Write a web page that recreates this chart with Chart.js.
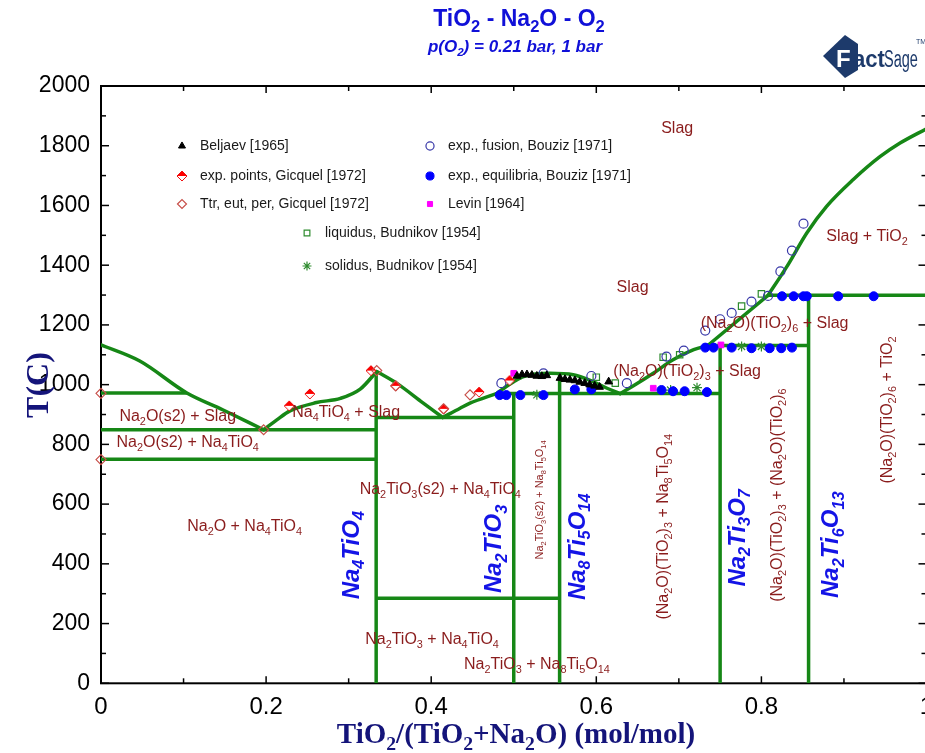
<!DOCTYPE html>
<html><head><meta charset="utf-8">
<script src="https://cdn.jsdelivr.net/npm/chart.js@4.4.1/dist/chart.umd.min.js"></script>
<style>
html,body{margin:0;padding:0;background:#fff;overflow:hidden;}
#wrap{position:relative;width:935px;height:753px;}
canvas{display:block;}
</style></head><body>
<div id="wrap"><canvas id="c" width="935" height="753"></canvas></div>
<script>
// ---- Phase boundaries: [x = TiO2/(TiO2+Na2O), T in °C] ----
const liqNa2O      = [[0,1133],[0.047,1079],[0.104,972],[0.148,915],[0.197,849]];
const liqNa4TiO4a  = [[0.197,849],[0.213,882],[0.229,912],[0.261,940],[0.29,954],[0.314,985],[0.334,1044]];
const liqNa4TiO4b  = [[0.334,1044],[0.358,1005],[0.39,939],[0.414,890]];
const liqNa2TiO3   = [[0.414,890],[0.435,921],[0.447,938],[0.479,970]];
const liqNa8Ti5O14 = [[0.479,970],[0.491,994],[0.5,1010],[0.512,1027],[0.544,1038],[0.572,1033],[0.596,1010],[0.613,988],[0.629,970]];
const liqNa2Ti3O7  = [[0.629,970],[0.645,996],[0.669,1038],[0.693,1083],[0.718,1117],[0.735,1131]];
const liqNa2Ti6O13 = [[0.735,1131],[0.808,1299]];
const liqTiO2      = [[0.808,1299],[0.831,1396],[0.855,1508],[0.879,1597],[0.911,1686],[0.944,1764],[0.968,1809],[1,1857]];

// horizontal invariants
const isotherms = [
  [[0,972],[0.104,972]],
  [[0,849],[1/3,849]],
  [[0,750],[1/3,750]],
  [[1/3,890],[0.5,890]],
  [[1/3,285],[5/9,285]],
  [[0.479,970],[5/9,970]],
  [[5/9,970],[0.75,970]],
  [[0.735,1131],[6/7,1131]],
  [[0.808,1299],[1,1299]]
];
// stoichiometric compounds
const compounds = [
  [[1/3,0],[1/3,1044]],
  [[0.5,0],[0.5,970]],
  [[5/9,0],[5/9,1038]],
  [[0.75,0],[0.75,1131]],
  [[6/7,0],[6/7,1299]]
];

// ---- Experimental points ----
const beljaev1965 = [[0.504,1029],[0.51,1034],[0.516,1034],[0.522,1032],[0.528,1029],[0.534,1028],[0.54,1031],[0.556,1022],[0.562,1018],[0.568,1016],[0.574,1014],[0.58,1009],[0.586,1005],[0.592,1000],[0.598,996],[0.604,992],[0.615,1010]];
const gicquelPoints = [[0.228,929],[0.253,969],[0.327,1047],[0.357,996],[0.415,919],[0.458,975],[0.495,1014]];
const gicquelTtr = [[0,971],[0,749],[0.197,849],[0.334,1047],[0.357,996],[0.415,919],[0.447,966]];
const bouzizFusion = [[0.485,1005],[0.536,1038],[0.594,1029],[0.637,1005],[0.685,1094],[0.706,1114],[0.732,1181],[0.75,1219],[0.764,1240],[0.788,1278],[0.808,1297],[0.823,1379],[0.837,1449],[0.851,1539]];
const bouzizEquil = [[0.483,965],[0.491,965],[0.508,965],[0.536,965],[0.574,984],[0.594,984],[0.679,982],[0.693,978],[0.707,978],[0.734,975],
  [0.732,1124],[0.742,1124],[0.764,1124],[0.788,1122],[0.81,1122],[0.824,1122],[0.837,1124],
  [0.825,1296],[0.839,1296],[0.851,1296],[0.855,1296],[0.893,1296],[0.936,1296]];
const levin1964 = [[0.5,1038],[0.669,988],[0.751,1133]];
const budnikovLiq = [[0.6,1025],[0.623,1005],[0.681,1092],[0.701,1100],[0.776,1263],[0.8,1304]];
const budnikovSol = [[0.528,966],[0.69,982],[0.722,990],[0.776,1128],[0.8,1128]];

// ---- Axis ticks ----
const xTickStep = 0.2, yTickStep = 200;
const xRange = [0, 1], yRange = [0, 2000];

// ---- Region and compound labels: [text, x, T] (underscore marks a subscript) ----
const regionLabels = [
  ['Slag',0.698,1857],['Slag',0.644,1324],['Slag + TiO_2',0.928,1495],
  ['(Na_2O)(TiO_2)_6 + Slag',0.816,1204],['(Na_2O)(TiO_2)_3 + Slag',0.71,1043],
  ['Na_2O(s2) + Slag',0.093,892],['Na_2O(s2) + Na_4TiO_4',0.105,805],['Na_4TiO_4 + Slag',0.297,905],
  ['Na_2TiO_3(s2) + Na_4TiO_4',0.411,648],['Na_2O + Na_4TiO_4',0.174,524],
  ['Na_2TiO_3 + Na_4TiO_4',0.401,145],['Na_2TiO_3 + Na_8Ti_5O_14',0.528,61]
];
const verticalLabels = [
  ['(Na_2O)(TiO_2)_3 + Na_8Ti_5O_14',0.682,524,16],
  ['(Na_2O)(TiO_2)_3 + (Na_2O)(TiO_2)_6',0.82,630,16],
  ['(Na_2O)(TiO_2)_6 + TiO_2',0.953,915,16],
  ['Na_2TiO_3(s2) + Na_8Ti_5O_14',0.532,614,11]
];
const compoundLabels = [
  ['Na_4TiO_4',0.304,429],['Na_2TiO_3',0.477,450],['Na_8Ti_5O_14',0.578,457],
  ['Na_2Ti_3O_7',0.772,487],['Na_2Ti_6O_13',0.885,464]
];

const GREEN = '#168716';
const MAROON = '#8a1c1c';
const pts = a => a.map(p => ({x:p[0], y:p[1]}));

// half-filled red diamond marker
function halfDiamond(size){
  const c = document.createElement('canvas'); c.width = size; c.height = size;
  const g = c.getContext('2d'), h = size/2;
  g.fillStyle = '#fff';
  g.beginPath(); g.moveTo(h,1); g.lineTo(size-1,h); g.lineTo(h,size-1); g.lineTo(1,h); g.closePath(); g.fill();
  g.fillStyle = '#ff0000';
  g.beginPath(); g.moveTo(h,1); g.lineTo(size-1,h); g.lineTo(1,h); g.closePath(); g.fill();
  g.strokeStyle = '#ee1111'; g.lineWidth = 1;
  g.beginPath(); g.moveTo(h,1); g.lineTo(size-1,h); g.lineTo(h,size-1); g.lineTo(1,h); g.closePath(); g.stroke();
  return c;
}
const redDiamond = halfDiamond(12);

const markerStyles = {
  beljaev:  {pointStyle:'triangle', pointRadius:4.5, backgroundColor:'#000', borderColor:'#000', borderWidth:1},
  gicquelP: {pointStyle:redDiamond, pointRadius:6, backgroundColor:'#f00', borderColor:'#f00', borderWidth:1},
  gicquelT: {pointStyle:'rectRot', pointRadius:5, backgroundColor:'rgba(0,0,0,0)', borderColor:'#c8504a', borderWidth:1.2},
  bFusion:  {pointStyle:'circle', pointRadius:4.5, backgroundColor:'rgba(0,0,0,0)', borderColor:'#3838a8', borderWidth:1.2},
  bEquil:   {pointStyle:'circle', pointRadius:4.5, backgroundColor:'#0000ff', borderColor:'#0000ff', borderWidth:1},
  levin:    {pointStyle:'rect', pointRadius:4, backgroundColor:'#ff00ff', borderColor:'#ff00ff', borderWidth:1},
  bLiq:     {pointStyle:'rect', pointRadius:4.5, backgroundColor:'rgba(0,0,0,0)', borderColor:'#2e8b2e', borderWidth:1.2},
  bSol:     {pointStyle:'star', pointRadius:5, backgroundColor:'#2e8b2e', borderColor:'#2e8b2e', borderWidth:1.2}
};

const datasets = [];
function markerSet(data, st){
  datasets.push(Object.assign({data:pts(data), showLine:false, order:0, clip:12, pointHoverRadius:st.pointRadius}, st));
}
markerSet(beljaev1965, markerStyles.beljaev);
markerSet(gicquelTtr, markerStyles.gicquelT);
markerSet(gicquelPoints, markerStyles.gicquelP);
markerSet(bouzizFusion, markerStyles.bFusion);
markerSet(bouzizEquil, markerStyles.bEquil);
markerSet(levin1964, markerStyles.levin);
markerSet(budnikovLiq, markerStyles.bLiq);
markerSet(budnikovSol, markerStyles.bSol);

[liqNa2O, liqNa4TiO4a, liqNa4TiO4b, liqNa2TiO3, liqNa8Ti5O14, liqNa2Ti3O7, liqNa2Ti6O13, liqTiO2].forEach(seg => {
  datasets.push({data:pts(seg), showLine:true, borderColor:GREEN, borderWidth:3.5, pointRadius:0,
    cubicInterpolationMode:'monotone', order:1, borderCapStyle:'round', borderJoinStyle:'round'});
});
isotherms.concat(compounds).forEach(seg => {
  datasets.push({data:pts(seg), showLine:true, borderColor:GREEN, borderWidth:3.5, pointRadius:0, order:1, tension:0});
});

// ---- text with subscripts ----
function parseRich(s){
  const out = []; let i = 0, buf = '';
  while (i < s.length){
    if (s[i] === '_'){
      if (buf){ out.push({t:buf, sub:false}); buf=''; }
      i++; let d='';
      while (i < s.length && /[0-9]/.test(s[i])){ d += s[i]; i++; }
      out.push({t:d, sub:true});
    } else { buf += s[i]; i++; }
  }
  if (buf) out.push({t:buf, sub:false});
  return out;
}
function drawRich(ctx, s, cx, cy, o){
  const parts = parseRich(s);
  const f = sz => `${o.style||'normal'} ${o.weight||'normal'} ${sz}px ${o.family||'"Liberation Sans", Arial, sans-serif'}`;
  const subSz = o.size*(o.subScale||0.68);
  let w = 0;
  parts.forEach(p => { ctx.font = f(p.sub ? subSz : o.size); p.w = ctx.measureText(p.t).width; w += p.w; });
  ctx.save();
  ctx.translate(cx, cy);
  if (o.rotate) ctx.rotate(o.rotate);
  ctx.fillStyle = o.color; ctx.textBaseline = 'middle'; ctx.textAlign = 'left';
  let x = o.align === 'left' ? 0 : -w/2;
  parts.forEach(p => { ctx.font = f(p.sub ? subSz : o.size); ctx.fillText(p.t, x, p.sub ? o.size*0.32 : 0); x += p.w; });
  ctx.restore();
}

// ---- frame with inward ticks ----
const framePlugin = {
  id:'frame',
  beforeDatasetsDraw(chart){
    const {ctx, chartArea:a, scales:{x, y}} = chart;
    ctx.save();
    ctx.strokeStyle = '#000'; ctx.lineWidth = 2;
    ctx.strokeRect(a.left, a.top, a.right - a.left, a.bottom - a.top);
    ctx.lineWidth = 1.5;
    const seg = (x1,y1,x2,y2) => { ctx.beginPath(); ctx.moveTo(x1,y1); ctx.lineTo(x2,y2); ctx.stroke(); };
    for (let t = yRange[0]; t <= yRange[1]; t += yTickStep/2){
      const py = y.getPixelForValue(t), L = (t % yTickStep === 0) ? 8 : 5;
      seg(a.left, py, a.left + L, py); seg(a.right, py, a.right - L, py);
    }
    for (let k = 0; k <= 10; k++){
      const v = k*xTickStep/2, px = x.getPixelForValue(v), L = (k % 2 === 0) ? 7 : 5;
      seg(px, a.bottom, px, a.bottom - L); seg(px, a.top, px, a.top + L);
    }
    ctx.restore();
  }
};

// ---- labels, titles, legend, logo ----
const legendItems = [
  {label:'Beljaev [1965]', st:'beljaev', x:182, y:146},
  {label:'exp. points, Gicquel [1972]', st:'gicquelP', x:182, y:176},
  {label:'Ttr, eut, per, Gicquel [1972]', st:'gicquelT', x:182, y:204},
  {label:'exp., fusion, Bouziz [1971]', st:'bFusion', x:430, y:146},
  {label:'exp., equilibria, Bouziz [1971]', st:'bEquil', x:430, y:176},
  {label:'Levin [1964]', st:'levin', x:430, y:204},
  {label:'liquidus, Budnikov [1954]', st:'bLiq', x:307, y:233},
  {label:'solidus, Budnikov [1954]', st:'bSol', x:307, y:266}
];

const annotPlugin = {
  id:'annot',
  afterDraw(chart){
    const {ctx, scales:{x, y}} = chart;
    regionLabels.forEach(([t, vx, vy]) => drawRich(ctx, t, x.getPixelForValue(vx), y.getPixelForValue(vy), {size:16, color:MAROON}));
    verticalLabels.forEach(([t, vx, vy, sz]) => drawRich(ctx, t, x.getPixelForValue(vx), y.getPixelForValue(vy), {size:sz, color:MAROON, rotate:-Math.PI/2}));
    compoundLabels.forEach(([t, vx, vy]) => drawRich(ctx, t, x.getPixelForValue(vx), y.getPixelForValue(vy), {size:24, weight:'bold', style:'italic', color:'#1414e6', rotate:-Math.PI/2}));

    // legend
    legendItems.forEach(it => {
      const st = markerStyles[it.st];
      ctx.save();
      ctx.fillStyle = st.backgroundColor; ctx.strokeStyle = st.borderColor; ctx.lineWidth = st.borderWidth;
      Chart.helpers.drawPoint(ctx, {pointStyle:st.pointStyle, radius:st.pointRadius*0.9, rotation:0, borderWidth:st.borderWidth}, it.x, it.y);
      ctx.restore();
      drawRich(ctx, it.label, it.x + 18, it.y, {size:14, color:'#1a1a1a', align:'left'});
    });

    // titles
    drawRich(ctx, 'TiO_2 - Na_2O - O_2', 519, 20, {size:23, weight:'bold', color:'#1010d8', subScale:0.72});
    drawRich(ctx, 'p(O_2) = 0.21 bar, 1 bar', 515, 47, {size:17, weight:'bold', style:'italic', color:'#1010d8'});
    drawRich(ctx, 'T(C)', 40, 385, {size:32, weight:'bold', color:'#14147a', family:'"Liberation Serif", "Times New Roman", serif', rotate:-Math.PI/2});
    drawRich(ctx, 'TiO_2/(TiO_2+Na_2O) (mol/mol)', 516, 736, {size:29, weight:'bold', color:'#14147a', family:'"Liberation Serif", "Times New Roman", serif'});

    // logo
    ctx.save();
    ctx.fillStyle = '#1d3a6b';
    ctx.beginPath();
    ctx.moveTo(823,56); ctx.lineTo(845,35); ctx.lineTo(858,44); ctx.lineTo(858,70); ctx.lineTo(845,78); ctx.closePath(); ctx.fill();
    ctx.fillStyle = '#fff';
    ctx.font = 'bold 24px "Liberation Sans", Arial, sans-serif';
    ctx.textBaseline = 'alphabetic';
    ctx.fillText('F', 836, 67);
    ctx.fillStyle = '#1d3a6b';
    ctx.save(); ctx.translate(853, 67); ctx.scale(0.92, 1);
    ctx.font = 'bold 24px "Liberation Sans", Arial, sans-serif';
    ctx.fillText('act', 0, 0);
    ctx.restore();
    ctx.save(); ctx.translate(884, 67); ctx.scale(0.66, 1.05);
    ctx.font = '22px "Liberation Sans", Arial, sans-serif';
    ctx.fillText('Sage', 0, 0);
    ctx.restore();
    ctx.font = '7px "Liberation Sans", Arial, sans-serif';
    ctx.fillText('TM', 916, 44);
    ctx.restore();
  }
};

new Chart(document.getElementById('c'), {
  type:'scatter',
  data:{datasets},
  options:{
    responsive:false, animation:false, devicePixelRatio:1,
    layout:{padding:{left:0, top:86, right:8.5, bottom:0}},
    plugins:{legend:{display:false}, tooltip:{enabled:false}, title:{display:false}},
    events:[],
    scales:{
      x:{type:'linear', min:xRange[0], max:xRange[1],
        grid:{display:false, drawTicks:false}, border:{display:false},
        ticks:{stepSize:xTickStep, padding:10, color:'#000', font:{family:'"Liberation Sans", Arial, sans-serif', size:24},
          callback:v => String(Math.round(v*10)/10), maxRotation:0, autoSkip:false},
        afterFit:s => { s.height = 69.7; s.paddingLeft = 0; s.paddingRight = 0; }},
      y:{type:'linear', min:yRange[0], max:yRange[1],
        grid:{display:false, drawTicks:false}, border:{display:false},
        ticks:{stepSize:yTickStep, padding:11, color:'#000', font:{family:'"Liberation Sans", Arial, sans-serif', size:23},
          callback:v => String(v)},
        afterFit:s => { s.width = 101; s.paddingTop = 0; s.paddingBottom = 0; }}
    }
  },
  plugins:[framePlugin, annotPlugin]
});
</script>
</body></html>
